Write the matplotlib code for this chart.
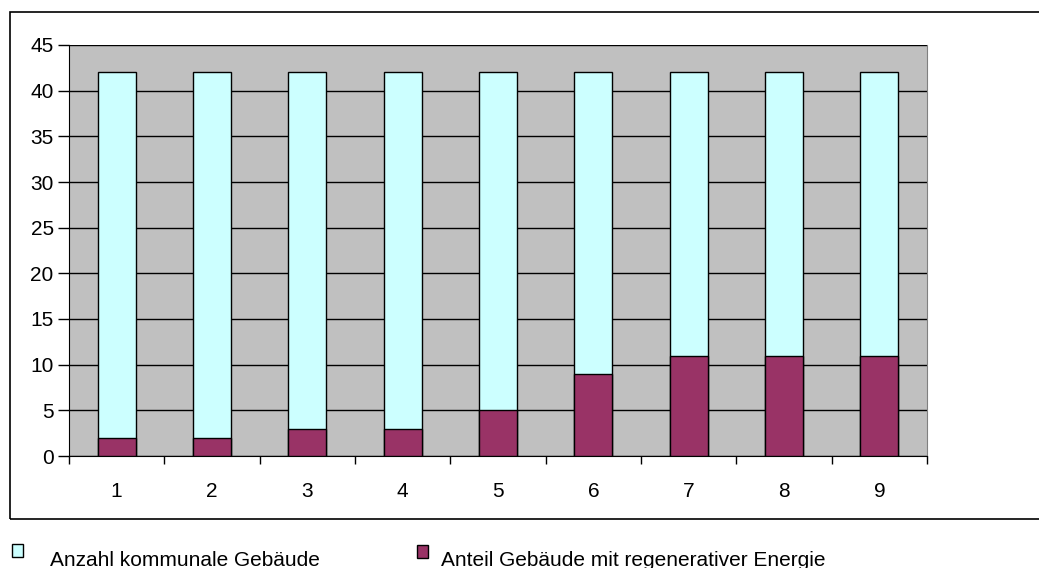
import numpy as np
import matplotlib.pyplot as plt
from matplotlib.patches import Rectangle

plt.rcParams['font.family'] = ['Liberation Sans', 'DejaVu Sans']

categories = ['1', '2', '3', '4', '5', '6', '7', '8', '9']
gesamt = [42, 42, 42, 42, 42, 42, 42, 42, 42]
regenerativ = [2, 2, 3, 3, 5, 9, 11, 11, 11]
labels = ['Anzahl kommunale Gebäude', 'Anteil Gebäude mit regenerativer Energie']

W, H = 1039, 568
fig = plt.figure(figsize=(W / 100, H / 100), dpi=100)
# plot area in pixel coords
l, r, t, b = 69, 927, 45, 456
ax = fig.add_axes([l / W, 1 - b / H, (r - l) / W, (b - t) / H])
ax.set_facecolor('#C0C0C0')

x = np.arange(len(categories))
ax.bar(x, gesamt, 0.4, color='#CCFFFF', edgecolor='black', linewidth=1, zorder=3)
ax.bar(x, regenerativ, 0.4, color='#993366', edgecolor='black', linewidth=1, zorder=4)

ax.set_xlim(-0.5, len(categories) - 0.5)
ax.set_ylim(0, 45)
ax.set_yticks(range(0, 46, 5))
ax.yaxis.grid(True, color='black', linewidth=1, zorder=1)
ax.set_axisbelow(True)
ax.set_xticks(x)
ax.set_xticklabels(categories)
ax.set_xticks(np.arange(-0.5, len(categories)), minor=True)
ax.tick_params(axis='x', which='major', length=0, pad=19, labelsize=15)
ax.tick_params(axis='x', which='minor', length=6, width=1, direction='out')
ax.tick_params(axis='y', length=8, width=1, direction='out', labelsize=15, pad=3)
ax.spines['top'].set_visible(False)
ax.spines['right'].set_color('#808080')
ax.spines['left'].set_color('black')
ax.spines['bottom'].set_color('black')

# outer chart border
fig.patches.append(Rectangle((10 / W, 1 - 519 / H), 1.1, (519 - 12) / H,
                             transform=fig.transFigure, fill=False,
                             edgecolor='black', linewidth=1.2))

# legend
fig.patches.append(Rectangle((12 / W, 1 - 557 / H), 11 / W, 13 / H, transform=fig.transFigure,
                             facecolor='#CCFFFF', edgecolor='black', linewidth=1))
fig.text(50 / W, 1 - 566 / H, labels[0], fontsize=15, va='baseline')
fig.patches.append(Rectangle((417 / W, 1 - 558 / H), 11 / W, 13 / H, transform=fig.transFigure,
                             facecolor='#993366', edgecolor='black', linewidth=1))
fig.text(441 / W, 1 - 566 / H, labels[1], fontsize=15, va='baseline')

fig.savefig('out.png', dpi=100)
